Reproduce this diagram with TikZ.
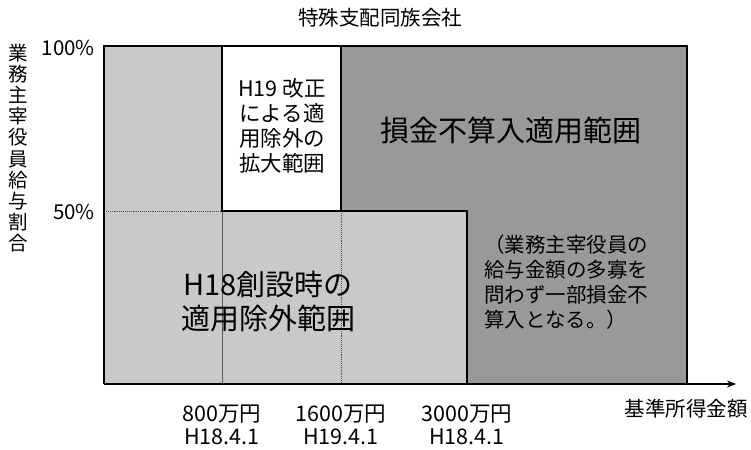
\documentclass[tikz,border=0pt]{standalone}
\usepackage{fontspec}
\setmainfont{Noto Sans CJK JP}
\usetikzlibrary{arrows.meta}
\definecolor{lightfill}{gray}{0.79}
\definecolor{darkfill}{gray}{0.60}
\tikzset{
  border/.style={draw=black,line width=1.8pt},
  lbl/.style={inner sep=0pt,align=center,text=black},
  f20/.style={font=\fontsize{20.5}{23.5}\selectfont},
  f28/.style={font=\fontsize{29}{34}\selectfont},
}
\begin{document}
\begin{tikzpicture}[x=1pt,y=-1pt]
\useasboundingbox (0,0) rectangle (751,449);
\coordinate (tl) at (104,46);
\coordinate (tr) at (687,46);
\coordinate (br) at (687,384);
\coordinate (o) at (104,384);
\coordinate (axend) at (736,384);
\coordinate (a800t) at (222,46);
\coordinate (a800m) at (222,211);
\coordinate (a800b) at (222,384);
\coordinate (a1600t) at (341,46);
\coordinate (a1600m) at (341,211);
\coordinate (a1600b) at (341,384);
\coordinate (a3000m) at (467,211);
\coordinate (a3000b) at (467,384);
\coordinate (y50) at (104,211);
% fills
\fill[darkfill] (tl) rectangle (br);
\fill[lightfill] (tl) -- (a800t) -- (a800m) -- (a3000m) -- (a3000b) -- (o) -- cycle;
\fill[white] (a800t) rectangle (a1600m);
% inner lines
\draw[gray!70!black,line width=0.6pt] (a800m) -- (a800b);
\draw[gray!60!black,line width=0.9pt,densely dotted] (a1600m) -- (a1600b);
\draw[gray!60!black,line width=0.9pt,densely dotted] (y50) -- (a800m);
\draw[border] (a800t) -- (a800m) -- (a3000m) -- (a3000b);
\draw[border] (a1600t) -- (a1600m);
\draw[border] (o) -- (tl) -- (tr) -- (br);
\draw[border,-{Stealth[length=9pt,width=7pt]}] (o) -- (axend);
% texts
\node[lbl,f20] (title) at (380,18) {特殊支配同族会社};
\node[lbl,font=\fontsize{19.5}{21.2}\selectfont] (ylab) at (18,148) {業\\務\\主\\宰\\役\\員\\給\\与\\割\\合};
\node[lbl,f20,anchor=east] (p100) at (95,48) {100\%};
\node[lbl,f20,anchor=east] (p50) at (95,212) {50\%};
\node[lbl,font=\fontsize{21.5}{25}\selectfont] (h19) at (282,126) {H19 改正\\による適\\用除外の\\拡大範囲};
\node[lbl,f28] (sonkin) at (511,130) {損金不算入適用範囲};
\node[lbl,f28] (h18) at (268,302) {H18創設時の\\適用除外範囲};
\node[lbl,anchor=north west,align=left,font=\fontsize{20.5}{25}\selectfont] (note) at (484,235) {（業務主宰役員の\\給与金額の多寡を\\問わず一部損金不\\算入となる。）};
\node[lbl,font=\fontsize{21.5}{23.5}\selectfont] (x800) at (222,425) {800万円\\H18.4.1};
\node[lbl,font=\fontsize{21.5}{23.5}\selectfont] (x1600) at (341,425) {1600万円\\H19.4.1};
\node[lbl,font=\fontsize{21.5}{23.5}\selectfont] (x3000) at (467,425) {3000万円\\H18.4.1};
\node[lbl,f20] (xlab) at (686,409) {基準所得金額};
\end{tikzpicture}
\end{document}
